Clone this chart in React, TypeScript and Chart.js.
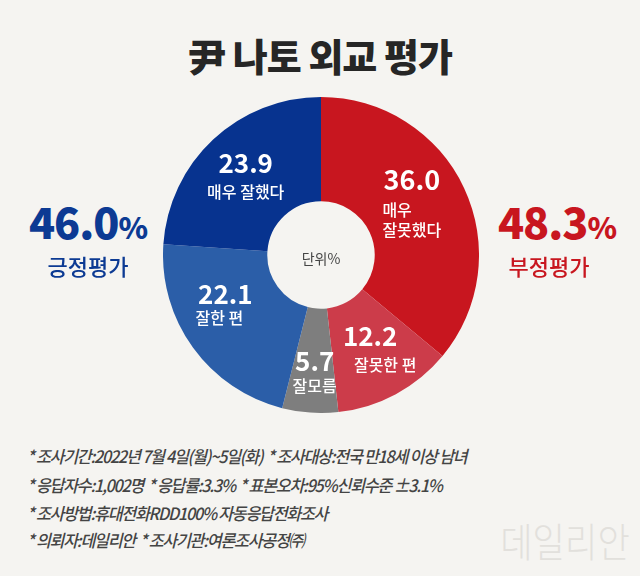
import React, { useEffect, useRef } from "react";
import { Chart, registerables } from "chart.js";

Chart.register(...registerables);

// ---- data ----
const categories = ["매우 잘못했다", "잘못한 편", "잘모름", "잘한 편", "매우 잘했다"];
const values = [36.0, 12.2, 5.7, 22.1, 23.9];
const valueLabels = ["36.0", "12.2", "5.7", "22.1", "23.9"];
const subLabels = [["매우", "잘못했다"], ["잘못한 편"], ["잘모름"], ["잘한 편"], ["매우 잘했다"]];
const sliceColors = ["#c8161f", "#cc3c4a", "#7e7e7e", "#2b5ea8", "#07338f"];

const titleText = "尹 나토 외교 평가";
const positiveTotal = "46.0";
const positiveLabel = "긍정평가";
const negativeTotal = "48.3";
const negativeLabel = "부정평가";
const unitText = "단위%";
const footnotes = [
  "* 조사기간:2022년 7월 4일(월)~5일(화)  * 조사대상:전국 만18세 이상 남녀",
  "* 응답자수:1,002명  * 응답률:3.3%  * 표본오차:95%신뢰수준 ±3.1%",
  "* 조사방법:휴대전화RDD100% 자동응답전화조사",
  "* 의뢰자:데일리안  * 조사기관:여론조사공정㈜",
];
const watermark = "데일리안";

// ---- label styling (offsets from slice centroid) ----
const numOffsets = [[-5, -30], [-1, -12], [1, 1], [-10, -23], [-3, -15]];
const subOffsets = [[-5, 0], [14, 17], [1, 25], [-16, 1], [-3, 14]];
const numSizes = [27, 26, 26, 26, 26];
const FONT = '"Noto Sans CJK KR", "Noto Sans", sans-serif';

const labelPlugin = {
  id: "sliceLabels",
  afterDatasetsDraw(chart: any) {
    const ctx = chart.ctx;
    const meta = chart.getDatasetMeta(0);
    meta.data.forEach((arc: any, i: number) => {
      const p = arc.tooltipPosition();
      ctx.save();
      ctx.fillStyle = "#ffffff";
      ctx.textBaseline = "middle";
      ctx.textAlign = "center";
      ctx.font = `bold ${numSizes[i]}px ${FONT}`;
      ctx.fillText(valueLabels[i], p.x + numOffsets[i][0], p.y + numOffsets[i][1]);
      ctx.font = `500 16px ${FONT}`;
      const lines = subLabels[i];
      const w = Math.max(...lines.map((l) => ctx.measureText(l).width));
      ctx.textAlign = "left";
      const cx = p.x + subOffsets[i][0];
      lines.forEach((l, j) => {
        ctx.fillText(l, cx - w / 2, p.y + subOffsets[i][1] + j * 20);
      });
      ctx.restore();
    });
  },
};

export default function App() {
  const ref = useRef<HTMLCanvasElement | null>(null);
  useEffect(() => {
    if (!ref.current) return;
    const chart = new Chart(ref.current, {
      type: "doughnut",
      data: {
        labels: categories,
        datasets: [
          {
            data: values,
            backgroundColor: sliceColors,
            borderWidth: 0,
            hoverOffset: 0,
          },
        ],
      },
      options: {
        responsive: false,
        animation: false,
        cutout: "34%",
        rotation: 0,
        layout: { padding: 0 },
        plugins: { legend: { display: false }, tooltip: { enabled: false } },
      },
      plugins: [labelPlugin],
    });
    return () => chart.destroy();
  }, []);

  const abs = (s: React.CSSProperties): React.CSSProperties => ({ position: "absolute", whiteSpace: "nowrap", ...s });

  return (
    <div style={{ position: "fixed", left: 0, top: 0, width: 640, height: 576, background: "#f5f4f1", overflow: "hidden", fontFamily: FONT }}>
      <div style={abs({ left: 320, top: 55, transform: "translate(-50%,-50%)", fontSize: 38, fontWeight: 900, color: "#262626", lineHeight: 1, letterSpacing: -1 })}>
        {titleText}
      </div>
      <canvas ref={ref} width={316} height={316} style={abs({ left: 163, top: 97, width: 316, height: 316 })} />
      <div style={abs({ left: 321, top: 258, transform: "translate(-50%,-50%)", fontSize: 14, color: "#444", lineHeight: 1 })}>{unitText}</div>

      <div style={abs({ left: 88, top: 220, transform: "translate(-50%,-50%)", color: "#0c3a93", fontWeight: 800, lineHeight: 1, letterSpacing: -1 })}>
        <span style={{ fontSize: 43 }}>{positiveTotal}</span>
        <span style={{ fontSize: 30 }}>%</span>
      </div>
      <div style={abs({ left: 88, top: 265, transform: "translate(-50%,-50%)", color: "#0c3a93", fontWeight: 500, fontSize: 22, lineHeight: 1 })}>
        {positiveLabel}
      </div>
      <div style={abs({ left: 557, top: 220, transform: "translate(-50%,-50%)", color: "#c8161f", fontWeight: 800, lineHeight: 1, letterSpacing: -1 })}>
        <span style={{ fontSize: 43 }}>{negativeTotal}</span>
        <span style={{ fontSize: 30 }}>%</span>
      </div>
      <div style={abs({ left: 549, top: 265, transform: "translate(-50%,-50%)", color: "#c8161f", fontWeight: 500, fontSize: 22, lineHeight: 1 })}>
        {negativeLabel}
      </div>

      {footnotes.map((t, i) => (
        <div
          key={i}
          style={abs({
            left: 27,
            top: [455, 484, 512, 539][i],
            transform: "translateY(-50%) scaleX(0.95)",
            transformOrigin: "left center",
            fontSize: 17,
            fontStyle: "italic",
            fontWeight: 500,
            color: "#444444",
            lineHeight: 1,
            letterSpacing: -1.3,
            whiteSpace: "pre",
          })}
        >
          {t}
        </div>
      ))}
      <div style={abs({ left: 565, top: 540, transform: "translate(-50%,-50%) scaleX(0.88)", fontSize: 40, color: "#e2e0dc", fontWeight: 300, lineHeight: 1 })}>
        {watermark}
      </div>
    </div>
  );
}
